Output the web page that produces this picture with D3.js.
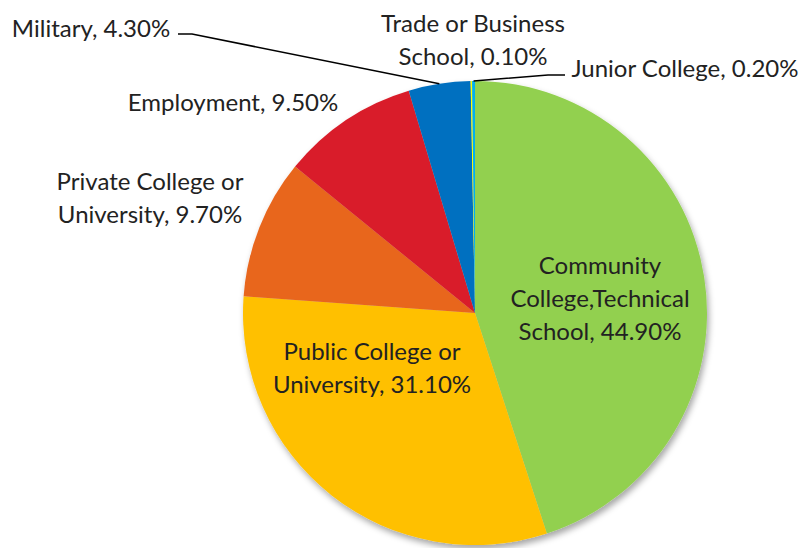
<!DOCTYPE html>
<html>
<head>
<meta charset="utf-8">
<script src="https://cdn.jsdelivr.net/npm/d3@7"></script>
<style>
  body { margin: 0; background: #fff; }
  svg { display: block; }
  text { font-family: Lato, "Open Sans", sans-serif; fill: #222; }
</style>
</head>
<body>
<div id="chart"></div>
<script>
// categories in the order they sit clockwise from 12 o'clock
const categories = [
  'Community College,Technical School',
  'Public College or University',
  'Private College or University',
  'Employment',
  'Military',
  'Trade or Business School',
  'Junior College'
]
const values = [44.9, 31.1, 9.7, 9.5, 4.3, 0.1, 0.2]
const colors = ['#92D050', '#FFC000', '#E8661F', '#D91F2A', '#0070C0', '#FFFF00', '#00B0F0']

// where each label goes (layout only): centre x, first line y, words per line
const labelLayout = [
  {x: 600, y: 264, words: [1, 1, 2]},
  {x: 372, y: 350, words: [3, 2]},
  {x: 150, y: 180, words: [3, 2]},
  {x: 233, y: 101, words: [2]},
  {x: 91, y: 27, words: [2], leader: [[192, 34], [178, 34]]},
  {x: 473, y: 22, words: [3, 2]},
  {x: 685, y: 67, words: [4], leader: [[548, 75], [565, 75]]}
]

const W = 802, H = 548
const cx = 475, cy = 313, radius = 232
const lineH = 33

function drawChart() {
  const data = categories.map((c, i) => ({name: c, value: values[i], color: colors[i], layout: labelLayout[i]}))

  const svg = d3.select('#chart')
    .append('svg')
    .attr('width', W)
    .attr('height', H)

  const defs = svg.append('defs')
  const filter = defs.append('filter')
    .attr('id', 'shadow')
    .attr('x', '-10%').attr('y', '-10%')
    .attr('width', '130%').attr('height', '130%')
  filter.append('feDropShadow')
    .attr('dx', 2).attr('dy', 4)
    .attr('stdDeviation', 3)
    .attr('flood-color', '#000')
    .attr('flood-opacity', 0.35)

  const pie = d3.pie()
    .sort(null)
    .value(d => d.value)

  const arc = d3.arc()
    .innerRadius(0)
    .outerRadius(radius)

  // zero-width arc used to find the point on the rim for leader lines
  const rim = d3.arc()
    .innerRadius(radius)
    .outerRadius(radius)

  const g = svg.append('g')
    .attr('transform', `translate(${cx},${cy})`)

  const arcs = pie(data)

  g.append('g')
    .attr('filter', 'url(#shadow)')
    .selectAll('path')
    .data(arcs)
    .enter()
    .append('path')
    .attr('d', arc)
    .attr('fill', d => d.data.color)

  // leader lines
  arcs.filter(d => d.data.layout.leader).forEach(d => {
    const p = rim.centroid(d)
    const pts = [[cx + p[0], cy + p[1]]].concat(d.data.layout.leader)
    svg.append('path')
      .attr('d', d3.line()(pts))
      .attr('fill', 'none')
      .attr('stroke', '#000')
      .attr('stroke-width', 1.5)
  })

  // labels
  arcs.forEach(d => {
    const lay = d.data.layout
    const label = d.data.name + ', ' + d.data.value.toFixed(2) + '%'
    const words = label.split(' ')
    let lines = [], k = 0
    lay.words.forEach(n => {
      lines.push(words.slice(k, k + n).join(' '))
      k += n
    })
    const t = svg.append('text')
      .attr('text-anchor', 'middle')
      .style('font-size', '24px')
    lines.forEach((ln, i) => {
      t.append('tspan')
        .attr('x', lay.x)
        .attr('y', lay.y + i * lineH)
        .attr('dominant-baseline', 'central')
        .text(ln)
    })
  })
}

drawChart()
</script>
</body>
</html>
